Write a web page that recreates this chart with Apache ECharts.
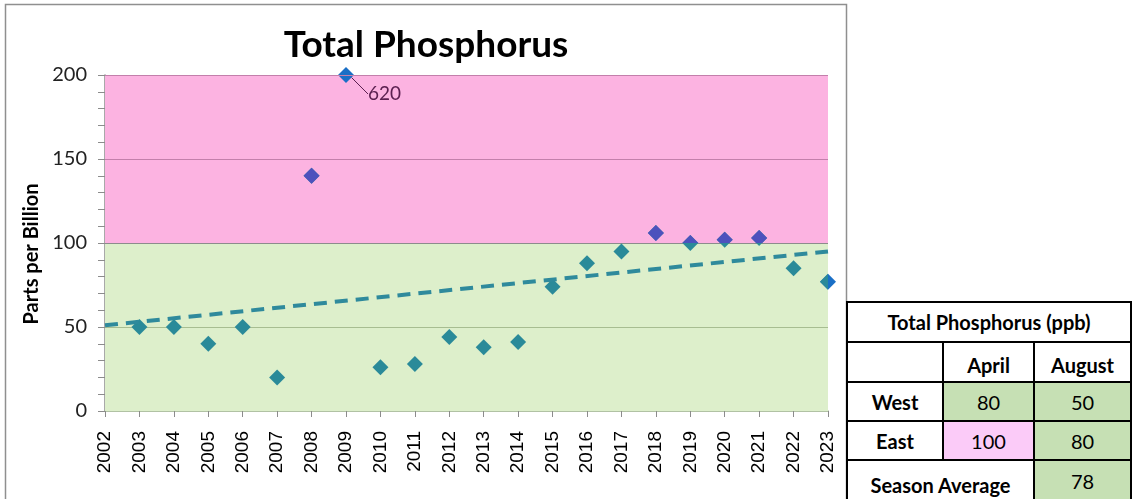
<!DOCTYPE html>
<html>
<head>
<meta charset="utf-8">
<script src="https://cdn.jsdelivr.net/npm/echarts@6/dist/echarts.min.js"></script>
<style>
  body { margin: 0; background: #fff; }
  #chart { position: absolute; left: 0; top: 0; width: 1136px; height: 499px; }
  #tbl {
    position: absolute; left: 846px; top: 301px;
    border-collapse: collapse; background: #fff;
    font-family: Lato, "Open Sans", sans-serif; color: #000;
  }
  #tbl td { border: 2px solid #000; text-align: center; padding: 0; font-size: 20px; }
  #tbl .b { font-weight: bold; font-size: 20px; }
</style>
</head>
<body>
<div id="chart"></div>
<table id="tbl"></table>
<script>
// data
const years = [2003, 2004, 2005, 2006, 2007, 2008, 2009, 2010, 2011, 2012, 2013,
  2014, 2015, 2016, 2017, 2018, 2019, 2020, 2021, 2022, 2023];
const phosphorus = [50, 50, 40, 50, 20, 140, 620, 26, 28, 44, 38,
  41, 74, 88, 95, 106, 100, 102, 103, 85, 77];
const trendYears = [2002, 2023];
const trendValues = [51, 95];
const flagYears = [2009, 2023];
const flagValues = [200, 77]; // 2009 drawn at top of the axis, real value in label
const bandLimits = [0, 100, 200];
const gridLineValues = [50, 100, 150, 200];
const gridLineColors = ["#a7bd91", "#8c8c8c", "#c37fab", "#c37fab"];

const tableMonths = ["April", "August"];
const tableSites = ["West", "East"];
const tableValues = [[80, 50], [100, 80]];
const seasonAverage = 78;

const teal = "#2a8a99";
const purple = "#4d51bd";
const blue = "#1a6fc6";

function diamond(color) {
  return function (params, api) {
    const p = api.coord([api.value(0), api.value(1)]);
    const s = 8;
    return {
      type: "polygon",
      shape: { points: [[p[0], p[1] - s], [p[0] + s, p[1]], [p[0], p[1] + s], [p[0] - s, p[1]]] },
      style: { fill: color }
    };
  };
}

const pts = years.map((y, i) => [y, phosphorus[i]]);

const myChart = echarts.init(document.getElementById("chart"));
const option = {
  animation: false,
  title: {
    text: "Total Phosphorus",
    left: 421, top: 22, textAlign: "center",
    textStyle: { fontFamily: "Lato", fontWeight: "bold", fontSize: 37, color: "#000" }
  },
  graphic: [{
    type: "rect", silent: true, z: -10,
    shape: { x: 5.5, y: 4.5, width: 841, height: 520 },
    style: { fill: "none", stroke: "#8f8f8f", lineWidth: 1.5 }
  }],
  grid: [
    { left: 105, right: 308, top: 75, bottom: 88 },
    { left: 105, right: 308, top: 75, bottom: 256 }
  ],
  xAxis: [{
    type: "value", min: 2002, max: 2023, interval: 1,
    axisLine: { lineStyle: { color: "#98ae86", width: 1.5 } },
    axisTick: { show: true, length: 6, lineStyle: { color: "#8c8c8c" } },
    splitLine: { show: false },
    axisLabel: {
      rotate: 90, margin: 20, fontSize: 19, color: "#000",
      fontFamily: "Liberation Sans",
      formatter: function (v) { return String(v); }
    }
  }, {
    type: "value", gridIndex: 1, min: 2002, max: 2023, show: false
  }],
  yAxis: [{
    type: "value", min: 0, max: 200, interval: 50,
    name: "Parts per Billion", nameLocation: "middle", nameGap: 56, nameRotate: 90,
    nameTextStyle: { fontFamily: "Lato", fontWeight: "bold", fontSize: 20, color: "#000", padding: [0, 22, 0, 0] },
    axisLine: { show: true, lineStyle: { color: "#8c8c8c", width: 1.5 } },
    axisTick: { show: true, length: 7, lineStyle: { color: "#8c8c8c" } },
    minorTick: { show: true, splitNumber: 5, length: 7, lineStyle: { color: "#8c8c8c" } },
    splitLine: { show: false },
    axisLabel: { margin: 18, fontSize: 20, color: "#222", fontFamily: "Lato" }
  }, {
    type: "value", gridIndex: 1, min: 100, max: 200, show: false
  }],
  series: [
    {
      name: "bands", type: "line", data: [], z: 1, silent: true,
      markArea: {
        silent: true,
        data: [
          [{ yAxis: bandLimits[0], itemStyle: { color: "#ddefcb" } }, { yAxis: bandLimits[1] }],
          [{ yAxis: bandLimits[1], itemStyle: { color: "#fcb3e1" } }, { yAxis: bandLimits[2] }]
        ]
      },
      markLine: {
        silent: true, symbol: "none", label: { show: false },
        data: gridLineValues.map((v, i) => ({ yAxis: v, lineStyle: { color: gridLineColors[i], width: 1.2, type: "solid" } }))
      }
    },
    {
      name: "trend", type: "line", z: 6, symbol: "none", silent: true,
      data: trendYears.map((y, i) => [y, trendValues[i]]),
      lineStyle: { color: "#2f8a9c", width: 4, type: [13, 8] }
    },
    {
      name: "flag", type: "scatter", z: 2, clip: false, symbol: "diamond", symbolSize: 16,
      itemStyle: { color: blue, opacity: 1 },
      data: flagYears.map((y, i) => {
        const d = { value: [y, flagValues[i]] };
        if (y === 2009) {
          d.label = {
            show: true, position: "right",
            formatter: String(phosphorus[years.indexOf(2009)]),
            fontFamily: "Lato", fontSize: 19, color: "#5b2050"
          };
          d.labelLine = { show: true, lineStyle: { color: "#5b2050", width: 1 } };
        }
        return d;
      }),
      labelLayout: { dx: 9, dy: 19 }
    },
    {
      name: "teal", type: "custom", z: 5, clip: true,
      renderItem: diamond(teal),
      encode: { x: 0, y: 1 },
      data: pts
    },
    {
      name: "over", type: "custom", z: 5, clip: true,
      xAxisIndex: 1, yAxisIndex: 1,
      renderItem: diamond(purple),
      encode: { x: 0, y: 1 },
      data: pts
    }
  ]
};
myChart.setOption(option);

// side table
const fill = v => (v >= 100 ? "#fbcbf8" : "#c6e0b4");
let html = '<tr style="height:40px"><td class="b" colspan="3">Total Phosphorus (ppb)</td></tr>';
html += '<tr style="height:40px"><td style="width:94px"></td>' +
  tableMonths.map((m, i) => '<td class="b" style="width:' + (i ? 95 : 89) + 'px;padding-top:6px">' + m + '</td>').join("") + '</tr>';
tableSites.forEach((s, r) => {
  html += '<tr style="height:39px"><td class="b">' + s + '</td>' +
    tableValues[r].map(v => '<td style="background:' + fill(v) + '">' + v + '</td>').join("") + '</tr>';
});
html += '<tr style="height:46px"><td class="b" colspan="2" style="vertical-align:bottom;padding-bottom:8px">Season Average</td>' +
  '<td style="background:' + fill(seasonAverage) + ';vertical-align:top;padding-top:8px">' + seasonAverage + '</td></tr>';
document.getElementById("tbl").innerHTML = html;
</script>
</body>
</html>
